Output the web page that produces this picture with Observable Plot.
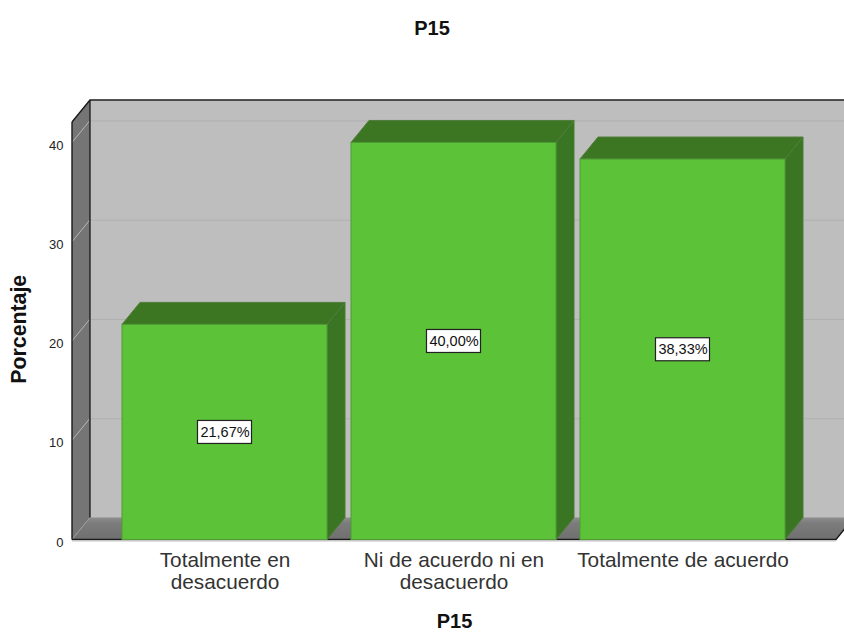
<!DOCTYPE html>
<html>
<head>
<meta charset="utf-8">
<script src="https://cdn.jsdelivr.net/npm/d3@7"></script>
<script src="https://cdn.jsdelivr.net/npm/@observablehq/plot@0.6"></script>
<style>
  html, body { margin: 0; padding: 0; background: #fff; overflow: hidden; }
  #title { height: 50px; text-align: center; font: bold 20px/56px "Liberation Sans", Arial, sans-serif; color: #111; padding-left: 20px; box-sizing: border-box; }
  svg { display: block; }
</style>
</head>
<body>
<div id="title">P15</div>
<div id="chart"></div>
<script>
const categories = ["Totalmente en desacuerdo", "Ni de acuerdo ni en desacuerdo", "Totalmente de acuerdo"];
const tickLabels = ["Totalmente en\ndesacuerdo", "Ni de acuerdo ni en\ndesacuerdo", "Totalmente de acuerdo"];
const percentages = [21.67, 40.00, 38.33];
const valueLabels = ["21,67%", "40,00%", "38,33%"];
const yTicks = [0, 10, 20, 30, 40];
const yMax = 42.06;

const rows = categories.map((c, i) => ({category: c, value: percentages[i], label: valueLabels[i]}));
const depthX = 18, depthY = -22;
const font = '"Liberation Sans", Arial, sans-serif';

function addPoly(g, pts, fill, stroke) {
  g.append("polygon").attr("points", pts.map(p => p.join(",")).join(" "))
    .attr("fill", fill).attr("stroke", stroke || "none").attr("stroke-width", stroke ? 1 : 0);
}
function bandOf(scales) {
  const b = scales.x.bandwidth ?? scales.scales?.x?.bandwidth;
  return typeof b === "function" ? b() : b;
}

// left wall, floor and their lines, placed by the plot's scales
function shell(index, scales, values, dim) {
  const g = d3.create("svg:g");
  const L = dim.marginLeft, R = dim.width - dim.marginRight;
  const y0 = scales.y(0), yT = scales.y(yMax);
  const defs = g.append("defs").append("linearGradient").attr("id", "floorGrad").attr("x1", 0).attr("x2", 0).attr("y1", 0).attr("y2", 1);
  defs.append("stop").attr("offset", "0").attr("stop-color", "#8e8e8e");
  defs.append("stop").attr("offset", "0.25").attr("stop-color", "#7c7c7c");
  defs.append("stop").attr("offset", "1").attr("stop-color", "#6f6f6f");
  addPoly(g, [[L, y0], [L + depthX, y0 + depthY], [L + depthX, yT + depthY], [L, yT]], "#757575");
  addPoly(g, [[L, y0], [R, y0], [R + depthX, y0 + depthY], [L + depthX, y0 + depthY]], "url(#floorGrad)");
  for (const t of yTicks) {
    g.append("line").attr("x1", L).attr("x2", L + depthX).attr("y1", scales.y(t)).attr("y2", scales.y(t) + depthY)
      .attr("stroke", t === 0 ? "#9a9a9a" : "#b6b6b6").attr("stroke-width", 1);
  }
  const edges = [
    [[L, y0], [L, yT]],
    [[L + depthX, y0 + depthY], [L + depthX, yT + depthY]],
    [[L, yT], [L + depthX, yT + depthY], [R + depthX + 40, yT + depthY]],
    [[L, y0], [R, y0], [R + depthX, y0 + depthY]]
  ];
  for (const e of edges) {
    g.append("polyline").attr("points", e.map(p => p.join(",")).join(" "))
      .attr("fill", "none").attr("stroke", "#1a1a1a").attr("stroke-width", 1.4);
  }
  g.append("line").attr("x1", L).attr("x2", R).attr("y1", y0 + 1.5).attr("y2", y0 + 1.5).attr("stroke", "#c4c4c4").attr("stroke-width", 1);
  return g.node();
}

// top and side faces of each bar
function barFaces(index, scales) {
  const g = d3.create("svg:g");
  const w = bandOf(scales);
  for (const r of rows) {
    const a = scales.x(r.category), b = a + w, t = scales.y(r.value), z = scales.y(0);
    addPoly(g, [[b, z], [b + depthX, z + depthY], [b + depthX, t + depthY], [b, t]], "#397522", "#4a7f35");
    addPoly(g, [[a, t], [a + depthX, t + depthY], [b + depthX, t + depthY], [b, t]], "#3c7623", "#4f7d3c");
  }
  return g.node();
}

// white boxes behind the value labels
function labelBoxes(index, scales) {
  const g = d3.create("svg:g");
  const w = bandOf(scales);
  for (const r of rows) {
    g.append("rect")
      .attr("x", scales.x(r.category) + w / 2 - 27)
      .attr("y", scales.y(r.value / 2) - 11.5)
      .attr("width", 54).attr("height", 23)
      .attr("fill", "#fff").attr("stroke", "#222").attr("stroke-width", 1.2);
  }
  return g.node();
}

const chart = Plot.plot({
  width: 844,
  height: 582,
  marginTop: 72,
  marginBottom: 92.5,
  marginLeft: 72,
  marginRight: 8,
  style: {fontFamily: font, background: "#fff", overflow: "hidden"},
  x: {domain: categories, paddingInner: 0.103, paddingOuter: 0.2195, align: 0.5, label: null},
  y: {domain: [0, yMax], label: null},
  marks: [
    Plot.frame({fill: "#bebebe", stroke: "none", dx: depthX, dy: depthY}),
    Plot.ruleY(yTicks.slice(1), {stroke: "#b0b0b0", strokeWidth: 1, dx: depthX, dy: depthY}),
    shell,
    barFaces,
    Plot.barY(rows, {x: "category", y: "value", fill: "#5cc238", stroke: "#4f9a34", strokeWidth: 1}),
    labelBoxes,
    Plot.text(rows, {x: "category", y: d => d.value / 2, text: "label", fontSize: 14.5, fill: "#111"}),
    Plot.axisY({ticks: yTicks, tickSize: 0, tickPadding: 9, fontSize: 13, dy: 2.5, color: "#222", label: null}),
    Plot.axisX({tickSize: 0, tickPadding: 11.5, fontSize: 20.8, lineHeight: 1.06, color: "#333", lineAnchor: "top",
      tickFormat: c => tickLabels[categories.indexOf(c)], label: null}),
    Plot.text(["P15"], {frameAnchor: "bottom", dy: 88, fontSize: 20, fontWeight: "bold", fill: "#111"}),
    Plot.text(["Porcentaje"], {frameAnchor: "left", textAnchor: "middle", dx: -53, dy: -2, rotate: -90, fontSize: 21.3, fontWeight: "bold", fill: "#111"})
  ]
});
document.getElementById("chart").appendChild(chart);
</script>
</body>
</html>
